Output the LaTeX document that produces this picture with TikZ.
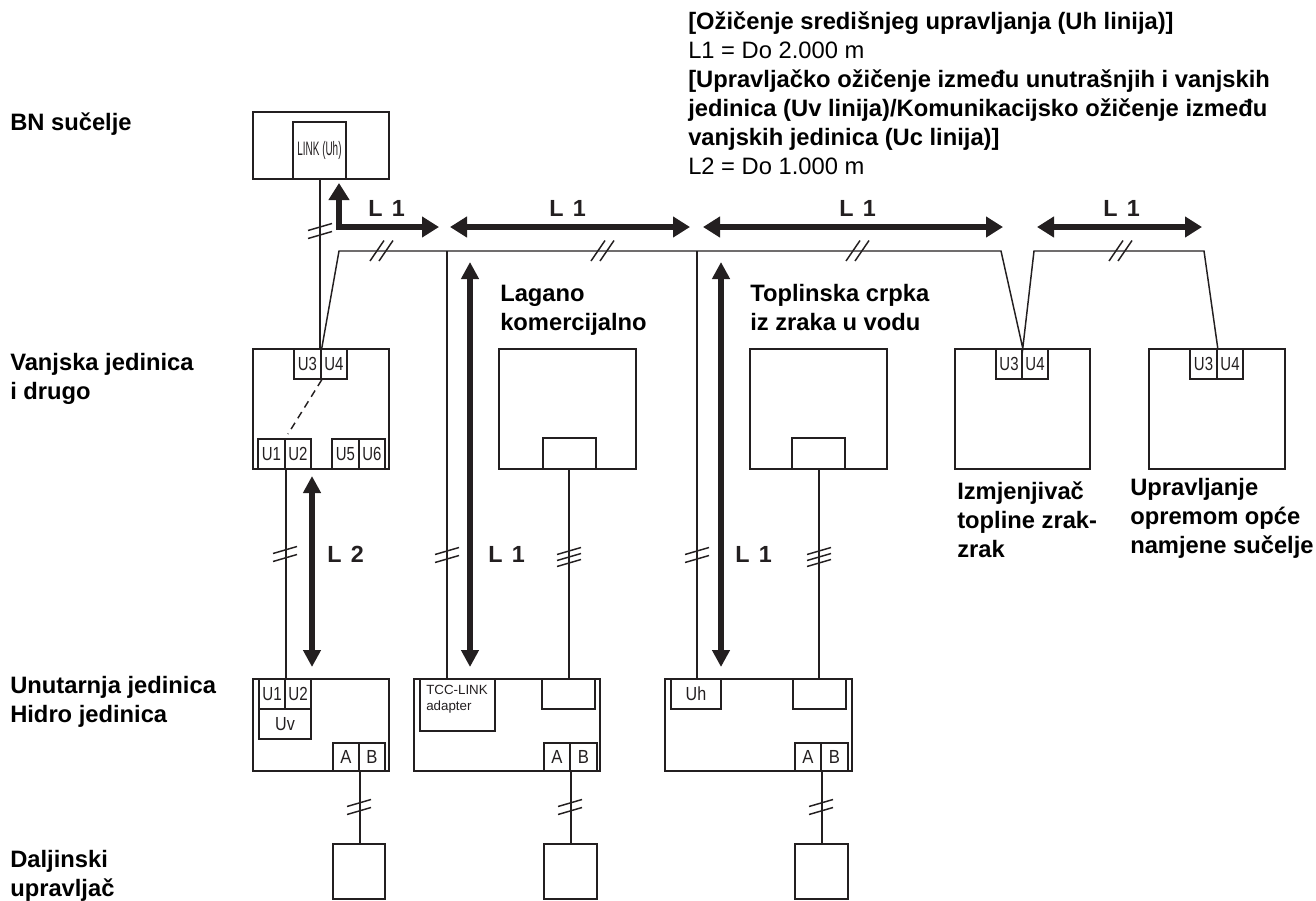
\documentclass[tikz,border=0pt]{standalone}
\usepackage{fontspec}
\usepackage{graphicx}
\setmainfont{Liberation Sans}
\usetikzlibrary{arrows.meta,calc}
\definecolor{ink}{HTML}{231F20}
\tikzset{
 x=0.75pt,y=-0.75pt,
 cellbox/.style={draw=ink,line width=1.15pt,inner sep=0,rectangle,text=ink,font=\fontsize{14.2}{15}\selectfont},
 wire/.style={draw=ink,line width=1.1pt},
 bigH/.style={draw=ink,line width=4pt,{Triangle[length=12.75pt,width=15pt]}-{Triangle[length=12.75pt,width=15pt]}},
 bigV/.style={draw=ink,line width=4pt,{Triangle[length=12.75pt,width=12.75pt]}-{Triangle[length=12.75pt,width=12.75pt]}},
 lbl/.style={font=\fontsize{17.8}{21.75}\selectfont\bfseries,align=left,anchor=north west,inner sep=0,text=black},
 ltext/.style={font=\fontsize{17.5}{17}\selectfont\bfseries,text=ink,inner sep=0,anchor=base west},
}
% a box given by its corners, in pixels
\newcommand{\ubox}[6]{\pgfmathsetmacro{\bw}{(#4-#2)*0.75}\pgfmathsetmacro{\bh}{(#5-#3)*0.75}%
 \node[cellbox,minimum width=\bw pt,minimum height=\bh pt] (#1) at ({(#2+#4)/2},{(#3+#5)/2}) {#6};}
\newcommand{\cnd}[2]{\scalebox{#1}[1]{#2}}
% wire tick marks, around a point given in pixels
\newcommand{\ticksV}[2]{\draw[wire] (#1-12,#2+3.5) -- (#1+12,#2-3.5);\draw[wire] (#1-12,#2+11.5) -- (#1+12,#2+4.5);}
\newcommand{\ticksT}[2]{\draw[wire] (#1-12,#2+3.5) -- (#1+12,#2-3.5);\draw[wire] (#1-12,#2+9.5) -- (#1+12,#2+2.5);\draw[wire] (#1-12,#2+15.5) -- (#1+12,#2+8.5);}
\newcommand{\ticksH}[1]{\draw[wire] (#1-7,261) -- (#1+7,240.5);\draw[wire] (#1+2,261) -- (#1+16,240.5);}
\begin{document}
\begin{tikzpicture}
\useasboundingbox (0,0) rectangle (1316,900);
% text
\node[lbl] (head) at (688,12) {[Ožičenje središnjeg upravljanja (Uh linija)]\\\mdseries L1 = Do 2.000 m\\{}[Upravljačko ožičenje između unutrašnjih i vanjskih\\jedinica (Uv linija)/Komunikacijsko ožičenje između\\vanjskih jedinica (Uc linija)]\\\mdseries L2 = Do 1.000 m};
\node[lbl] (t1) at (10,110) {\strut BN sučelje};
\node[lbl] (t2) at (10,350) {\strut Vanjska jedinica\\i drugo};
\node[lbl] (t3) at (10,673) {\strut Unutarnja jedinica\\Hidro jedinica};
\node[lbl] (t4) at (10,847) {\strut Daljinski\\upravljač};
\node[lbl] (t5) at (500,281) {\strut Lagano\\komercijalno};
\node[lbl] (t6) at (750,281) {\strut Toplinska crpka\\iz zraka u vodu};
\node[lbl] (t7) at (957,479) {\strut Izmjenjivač\\topline zrak-\\zrak};
\node[lbl] (t8) at (1130,475) {\strut Upravljanje\\opremom opće\\namjene sučelje};
% BN interface
\ubox{bn}{253}{112}{389}{179}{}
\ubox{link}{293}{122}{346}{179}{\fontsize{14.6}{15}\selectfont\cnd{.51}{LINK (Uh)}}
% outdoor unit
\ubox{od}{253}{349}{389}{469}{}
\ubox{au3}{294}{349}{321}{379}{\cnd{.79}{U3}}
\ubox{au4}{321}{349}{347}{379}{\cnd{.79}{U4}}
\ubox{au1}{258}{439}{285}{469}{\cnd{.79}{U1}}
\ubox{au2}{285}{439}{311}{469}{\cnd{.79}{U2}}
\ubox{au5}{332}{439}{359}{469}{\cnd{.79}{U5}}
\ubox{au6}{359}{439}{385}{469}{\cnd{.79}{U6}}
\draw[wire,dash pattern=on 5.5pt off 4pt] (au3.south east) -- (288,434);
% light commercial, air to water
\ubox{lc}{499}{349}{636}{469}{}
\ubox{lci}{543}{438}{596}{469}{}
\ubox{aw}{750}{349}{887}{469}{}
\ubox{awi}{792}{438}{845}{469}{}
% units at right
\ubox{hx}{955}{349}{1090}{469}{}
\ubox{bu3}{996}{349}{1022}{379}{\cnd{.79}{U3}}
\ubox{bu4}{1022}{349}{1048}{379}{\cnd{.79}{U4}}
\ubox{ge}{1149}{349}{1285}{469}{}
\ubox{cu3}{1190}{349}{1217}{379}{\cnd{.79}{U3}}
\ubox{cu4}{1217}{349}{1243}{379}{\cnd{.79}{U4}}
% indoor 1
\ubox{iu}{253}{679}{389}{771}{}
\ubox{du1}{259}{679}{285}{709}{\cnd{.8}{U1}}
\ubox{du2}{285}{679}{311}{709}{\cnd{.8}{U2}}
\ubox{duv}{259}{709}{311}{739}{\cnd{.85}{Uv}}
\ubox{da}{333}{743}{359}{771}{\cnd{.88}{A}}
\ubox{db}{359}{743}{385}{771}{\cnd{.88}{B}}
% indoor 2
\ubox{iv}{414}{679}{600}{771}{}
\ubox{tcc}{420}{679}{495}{731}{}
\node[anchor=north west,inner sep=0,align=left,text=ink,font=\fontsize{10}{12}\selectfont] (tcct) at (426,685) {TCC-LINK\\adapter};
\ubox{ei}{542}{679}{595}{709}{}
\ubox{ea}{544}{743}{570}{771}{\cnd{.88}{A}}
\ubox{eb}{570}{743}{597}{771}{\cnd{.88}{B}}
% indoor 3
\ubox{iw}{665}{679}{852}{771}{}
\ubox{uh}{671}{679}{721}{709}{\cnd{.85}{Uh}}
\ubox{fi}{793}{679}{846}{709}{}
\ubox{fa}{795}{743}{821}{771}{\cnd{.88}{A}}
\ubox{fb}{821}{743}{848}{771}{\cnd{.88}{B}}
% remotes
\ubox{r1}{333}{844}{385}{899}{}
\ubox{r2}{544}{844}{597}{899}{}
\ubox{r3}{795}{844}{848}{899}{}
% bus
\coordinate (b0) at (339,251);
\coordinate (t1a) at (447,251);
\coordinate (t2a) at (697,251);
\coordinate (b1) at (1001,251);
\coordinate (b2) at (1034,251);
\coordinate (b3) at (1204,251);
\coordinate (wl) at (320,179);
\coordinate (wc) at (569,469);
\coordinate (wa) at (819,469);
\draw[wire] (wl) -- (wl |- od.north);
\draw[wire] (au3.north east) -- (b0) -- (b1) -- (bu3.north east) -- (b2) -- (b3) -- (cu3.north east);
\draw[wire] (t1a) -- (t1a |- tcc.north);
\draw[wire] (t2a) -- (t2a |- uh.north);
\draw[wire] (au1.south east) -- (du1.north east);
\draw[wire] (wc) -- (wc |- ei.north);
\draw[wire] (wa) -- (wa |- fi.north);
\draw[wire] (da.south east) -- (da.south east |- r1.north);
\draw[wire] (ea.south east) -- (ea.south east |- r2.north);
\draw[wire] (fa.south east) -- (fa.south east |- r3.north);
% ticks
\ticksV{320}{227}
\ticksH{377}
\ticksH{598}
\ticksH{853}
\ticksH{1116}
\ticksV{285}{550}
\ticksV{447}{551}
\ticksV{697}{551}
\ticksT{569}{551}
\ticksT{819}{551}
\ticksV{359}{803}
\ticksV{570}{803}
\ticksV{821}{803}
% span arrows
\coordinate (h1a) at (339,183); \coordinate (h1b) at (339,227); \coordinate (h1c) at (439,227);
\draw[draw=ink,line width=4pt,line join=miter,{Triangle[length=12.75pt,width=15pt]}-{Triangle[length=12.75pt,width=15pt]}] (h1a) -- (h1b) -- (h1c);
\coordinate (h2a) at (450,227); \coordinate (h2b) at (690,227);
\coordinate (h3a) at (703,227); \coordinate (h3b) at (1003,227);
\coordinate (h4a) at (1037,227); \coordinate (h4b) at (1202,227);
\draw[bigH] (h2a) -- (h2b);
\draw[bigH] (h3a) -- (h3b);
\draw[bigH] (h4a) -- (h4b);
\coordinate (v1a) at (312,476); \coordinate (v1b) at (312,667);
\coordinate (v2a) at (470,262); \coordinate (v2b) at (470,667);
\coordinate (v3a) at (721,262); \coordinate (v3b) at (721,667);
\draw[bigV] (v1a) -- (v1b);
\draw[bigV] (v2a) -- (v2b);
\draw[bigV] (v3a) -- (v3b);
% span labels
\node[ltext] (l1) at (368,216) {L\hspace{7pt}1};
\node[ltext] (l2) at (549,216) {L\hspace{7pt}1};
\node[ltext] (l3) at (839,216) {L\hspace{7pt}1};
\node[ltext] (l4) at (1103,216) {L\hspace{7pt}1};
\node[ltext] (l5) at (327,562) {L\hspace{7pt}2};
\node[ltext] (l6) at (488,562) {L\hspace{7pt}1};
\node[ltext] (l7) at (735,562) {L\hspace{7pt}1};
\end{tikzpicture}
\end{document}
